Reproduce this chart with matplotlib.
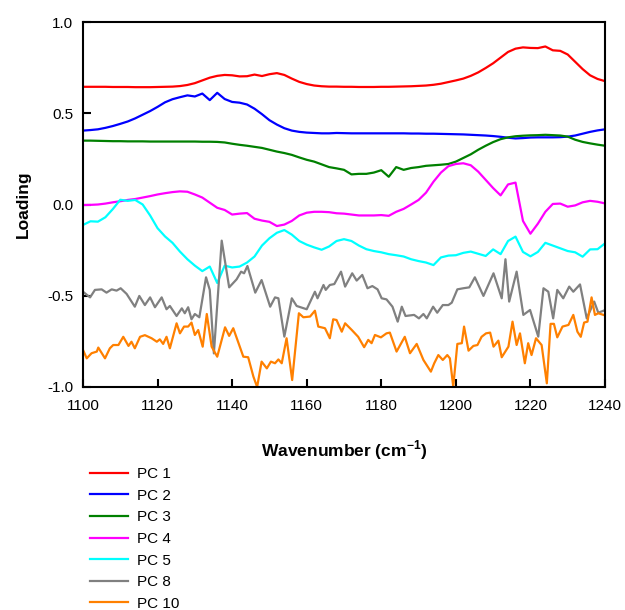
import numpy as np
import matplotlib
matplotlib.use("Agg")
import matplotlib.pyplot as plt

plt.rcParams['font.family'] = ['Liberation Sans', 'DejaVu Sans']
plt.rcParams['axes.unicode_minus'] = False
plt.rcParams['mathtext.fontset'] = 'custom'
plt.rcParams['mathtext.bf'] = 'Liberation Sans:bold'
plt.rcParams['mathtext.rm'] = 'Liberation Sans'

# smooth loadings, read every 2 cm-1
wn = np.arange(1100, 1241, 2)

pc1 = [0.645, 0.645, 0.645, 0.645, 0.644, 0.644, 0.644, 0.643, 0.643, 0.643,
       0.644, 0.645, 0.646, 0.649, 0.655, 0.665, 0.680, 0.695, 0.705, 0.710,
       0.708, 0.702, 0.703, 0.712, 0.704, 0.714, 0.720, 0.710, 0.690, 0.672,
       0.660, 0.652, 0.648, 0.646, 0.646, 0.645, 0.645, 0.644, 0.644, 0.644,
       0.645, 0.645, 0.646, 0.647, 0.648, 0.650, 0.652, 0.656, 0.662, 0.671,
       0.680, 0.690, 0.705, 0.724, 0.748, 0.774, 0.805, 0.836, 0.854, 0.861,
       0.858, 0.857, 0.866, 0.845, 0.842, 0.822, 0.782, 0.742, 0.708, 0.688,
       0.676]

pc2 = [0.405, 0.408, 0.412, 0.420, 0.430, 0.442, 0.455, 0.472, 0.492, 0.512,
       0.535, 0.560, 0.577, 0.588, 0.598, 0.592, 0.608, 0.572, 0.612, 0.578,
       0.562, 0.558, 0.548, 0.525, 0.495, 0.462, 0.438, 0.418, 0.405, 0.398,
       0.394, 0.392, 0.390, 0.390, 0.392, 0.391, 0.390, 0.390, 0.390, 0.390,
       0.390, 0.390, 0.390, 0.390, 0.389, 0.389, 0.388, 0.388, 0.387, 0.386,
       0.385, 0.384, 0.382, 0.380, 0.378, 0.375, 0.371, 0.366, 0.362, 0.364,
       0.367, 0.368, 0.368, 0.368, 0.369, 0.372, 0.378, 0.388, 0.398, 0.406,
       0.412]

pc3 = [0.350, 0.350, 0.349, 0.348, 0.347, 0.347, 0.346, 0.346, 0.346, 0.345,
       0.345, 0.345, 0.345, 0.345, 0.345, 0.345, 0.344, 0.344, 0.343, 0.340,
       0.333, 0.327, 0.322, 0.316, 0.310, 0.300, 0.290, 0.282, 0.272, 0.258,
       0.245, 0.235, 0.220, 0.205, 0.198, 0.190, 0.165, 0.168, 0.168, 0.175,
       0.188, 0.152, 0.205, 0.190, 0.200, 0.205, 0.212, 0.215, 0.218, 0.222,
       0.235, 0.255, 0.275, 0.300, 0.322, 0.342, 0.358, 0.368, 0.374, 0.377,
       0.379, 0.380, 0.382, 0.380, 0.378, 0.372, 0.355, 0.343, 0.335, 0.328,
       0.322]

pc4 = [-0.003, -0.002, 0.000, 0.005, 0.012, 0.018, 0.025, 0.030, 0.038, 0.046,
       0.055, 0.062, 0.068, 0.072, 0.070, 0.055, 0.038, 0.010, -0.018, -0.030,
       -0.055, -0.050, -0.047, -0.078, -0.088, -0.095, -0.118, -0.110, -0.090, -0.060,
       -0.045, -0.040, -0.040, -0.042, -0.048, -0.050, -0.055, -0.060, -0.060, -0.060,
       -0.058, -0.062, -0.040, -0.024, 0.000, 0.025, 0.065, 0.125, 0.175, 0.210,
       0.222, 0.226, 0.215, 0.180, 0.135, 0.090, 0.050, 0.110, 0.120, -0.090,
       -0.160, -0.105, -0.040, 0.003, 0.005, -0.012, -0.005, 0.012, 0.020, 0.015,
       0.006]

pc5 = [-0.112, -0.092, -0.094, -0.070, -0.025, 0.026, 0.020, 0.025, 0.000, -0.060,
       -0.130, -0.175, -0.210, -0.258, -0.300, -0.335, -0.365, -0.340, -0.430, -0.335,
       -0.345, -0.340, -0.318, -0.285, -0.225, -0.185, -0.155, -0.140, -0.165, -0.200,
       -0.220, -0.235, -0.248, -0.230, -0.200, -0.190, -0.200, -0.225, -0.245, -0.255,
       -0.262, -0.272, -0.278, -0.285, -0.300, -0.310, -0.318, -0.332, -0.290, -0.280,
       -0.278, -0.265, -0.258, -0.270, -0.282, -0.246, -0.272, -0.200, -0.176, -0.260,
       -0.284, -0.260, -0.210, -0.225, -0.240, -0.255, -0.262, -0.286, -0.246, -0.245,
       -0.213]

# noisy loadings, read point by point
wn8 = [1100.0, 1101.9, 1103.2, 1105.0, 1106.3, 1107.7, 1109.0, 1110.1, 1111.7, 1113.9,
       1115.1, 1116.6, 1118.0, 1119.3, 1121.1, 1122.4, 1123.3, 1125.1, 1126.5, 1127.3,
       1128.2, 1129.1, 1130.0, 1131.2, 1133.0, 1134.0, 1135.1, 1137.2, 1139.2, 1141.2,
       1142.4, 1143.2, 1144.1, 1146.2, 1147.9, 1150.2, 1151.5, 1152.4, 1154.0, 1156.0,
       1157.3, 1160.0, 1162.2, 1162.9, 1164.5, 1165.1, 1166.2, 1167.4, 1169.2, 1170.3,
       1172.2, 1173.4, 1174.9, 1176.3, 1177.6, 1179.0, 1180.1, 1181.4, 1183.0, 1184.4,
       1185.5, 1186.5, 1188.8, 1190.1, 1191.3, 1192.2, 1193.9, 1195.0, 1196.5, 1198.0,
       1198.9, 1200.4, 1202.0, 1203.6, 1205.1, 1207.4, 1210.1, 1212.3, 1213.3, 1214.3,
       1216.3, 1218.1, 1219.9, 1222.1, 1223.5, 1224.8, 1226.1, 1227.2, 1228.8, 1230.4,
       1231.5, 1233.3, 1235.1, 1237.1, 1238.2, 1239.6]
pc8 = [-0.478, -0.509, -0.468, -0.465, -0.483, -0.465, -0.472, -0.459, -0.490, -0.560,
       -0.501, -0.551, -0.509, -0.563, -0.509, -0.574, -0.556, -0.611, -0.569, -0.596,
       -0.563, -0.629, -0.600, -0.618, -0.399, -0.468, -0.816, -0.198, -0.454, -0.410,
       -0.368, -0.377, -0.337, -0.483, -0.414, -0.560, -0.509, -0.514, -0.724, -0.514,
       -0.556, -0.574, -0.478, -0.514, -0.441, -0.468, -0.441, -0.436, -0.368, -0.450,
       -0.377, -0.417, -0.386, -0.459, -0.447, -0.465, -0.514, -0.520, -0.560, -0.642,
       -0.560, -0.611, -0.605, -0.624, -0.600, -0.624, -0.560, -0.593, -0.551, -0.551,
       -0.538, -0.465, -0.459, -0.454, -0.399, -0.501, -0.377, -0.514, -0.300, -0.532,
       -0.368, -0.605, -0.578, -0.724, -0.459, -0.478, -0.624, -0.468, -0.514, -0.450,
       -0.478, -0.438, -0.624, -0.532, -0.593, -0.582]

wn10 = [1100.0, 1101.0, 1102.3, 1103.7, 1104.1, 1105.9, 1107.2, 1108.1, 1109.5, 1110.8,
        1112.2, 1113.0, 1113.9, 1115.3, 1116.6, 1118.4, 1119.8, 1120.6, 1121.5, 1122.4,
        1123.3, 1125.1, 1126.0, 1127.1, 1128.2, 1129.1, 1130.0, 1130.9, 1132.1, 1133.2,
        1134.5, 1136.0, 1138.1, 1139.2, 1140.3, 1143.0, 1144.3, 1145.7, 1146.7, 1147.9,
        1149.3, 1150.4, 1151.5, 1152.4, 1153.3, 1154.6, 1156.1, 1157.9, 1159.1, 1160.9,
        1162.2, 1163.1, 1164.9, 1166.2, 1167.1, 1168.0, 1169.4, 1170.3, 1172.1, 1173.8,
        1175.4, 1176.5, 1177.4, 1178.3, 1179.9, 1181.4, 1182.3, 1184.1, 1186.3, 1187.7,
        1189.5, 1191.3, 1193.3, 1194.2, 1195.3, 1196.5, 1197.7, 1198.4, 1199.3, 1200.4,
        1201.6, 1202.2, 1203.4, 1204.7, 1205.8, 1206.9, 1208.1, 1209.2, 1210.1, 1211.4,
        1212.3, 1214.1, 1215.2, 1216.3, 1217.2, 1218.5, 1219.4, 1220.3, 1221.5, 1223.0,
        1224.4, 1225.4, 1226.3, 1227.2, 1228.6, 1230.2, 1231.5, 1232.6, 1233.5, 1234.4,
        1235.3, 1236.4, 1237.3, 1238.2, 1239.6]
pc10 = [-0.797, -0.843, -0.815, -0.806, -0.784, -0.843, -0.788, -0.770, -0.770, -0.725,
        -0.775, -0.752, -0.788, -0.725, -0.716, -0.733, -0.752, -0.739, -0.764, -0.725,
        -0.788, -0.651, -0.706, -0.669, -0.669, -0.647, -0.715, -0.688, -0.779, -0.600,
        -0.779, -0.834, -0.673, -0.720, -0.678, -0.834, -0.837, -0.943, -1.000, -0.861,
        -0.898, -0.861, -0.870, -0.849, -0.870, -0.733, -0.962, -0.596, -0.618, -0.614,
        -0.582, -0.669, -0.678, -0.733, -0.629, -0.633, -0.697, -0.651, -0.688, -0.725,
        -0.782, -0.742, -0.760, -0.715, -0.728, -0.706, -0.702, -0.806, -0.725, -0.815,
        -0.764, -0.852, -0.916, -0.870, -0.825, -0.852, -0.825, -0.843, -0.998, -0.764,
        -0.760, -0.669, -0.801, -0.775, -0.770, -0.725, -0.706, -0.702, -0.779, -0.746,
        -0.837, -0.779, -0.642, -0.770, -0.706, -0.870, -0.760, -0.825, -0.733, -0.770,
        -0.980, -0.654, -0.654, -0.728, -0.669, -0.660, -0.605, -0.697, -0.725, -0.647,
        -0.642, -0.509, -0.605, -0.596, -0.605]

labels = ['PC 1', 'PC 2', 'PC 3', 'PC 4', 'PC 5', 'PC 8', 'PC 10']
colors = ['#ff0000', '#0000ff', '#008000', '#ff00ff', '#00ffff', '#808080', '#ff8000']

fig = plt.figure(figsize=(6.25, 6.1), dpi=100)
ax = fig.add_axes([0.1328, 0.3656, 0.8352, 0.5983])

series = [(wn, pc1), (wn, pc2), (wn, pc3), (wn, pc4), (wn, pc5), (wn8, pc8), (wn10, pc10)]
for (x, y), lab, c in zip(series, labels, colors):
    ax.plot(x, y, color=c, lw=1.6, label=lab)

ax.set_xlim(1100, 1240)
ax.set_ylim(-1.0, 1.0)
ax.set_xticks(np.arange(1100, 1241, 20))
ax.set_yticks([-1.0, -0.5, 0.0, 0.5, 1.0])
ax.set_yticklabels(['-1.0', '-0.5', '0.0', '0.5', '1.0'])
ax.tick_params(direction='in', length=6, width=1.5, labelsize=11, top=False, right=False)
ax.tick_params(axis='x', pad=9)
ax.tick_params(axis='y', pad=7)
for s in ax.spines.values():
    s.set_linewidth(1.5)

ax.set_xlabel('Wavenumber (cm$^{\\mathbf{-1}}$)', fontsize=12.5, fontweight='bold', labelpad=18)
ax.set_ylabel('Loading', fontsize=12.5, fontweight='bold', labelpad=12)

fig.legend(loc='upper left', bbox_to_anchor=(90 / 625, 1 - 467 / 610), frameon=False,
           fontsize=11, handlelength=2.5, handletextpad=0.6, labelspacing=0.5,
           borderpad=0, borderaxespad=0)

fig.savefig('out.png', dpi=100)
